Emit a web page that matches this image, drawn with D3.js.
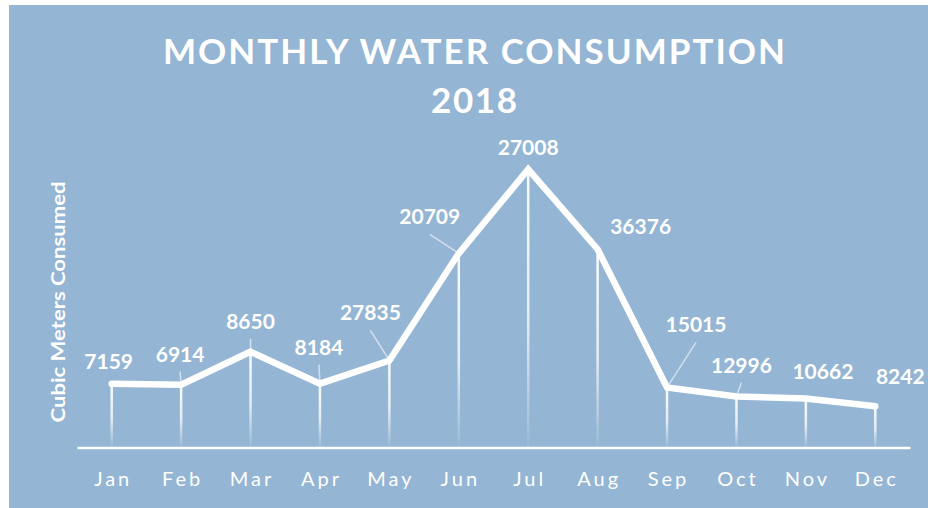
<!DOCTYPE html>
<html>
<head>
<meta charset="utf-8">
<script src="https://cdn.jsdelivr.net/npm/d3@7"></script>
<style>
  body { margin: 0; background: #ffffff; }
  svg { display: block; }
</style>
</head>
<body>
<svg id="chart"></svg>
<script>
var screen = {width: 928, height: 508};
var margins = {top: 0, right: 18, bottom: 60, left: 77};

// data
var months = ["Jan", "Feb", "Mar", "Apr", "May", "Jun", "Jul", "Aug", "Sep", "Oct", "Nov", "Dec"];
var consumption = [6200, 6100, 9300, 6200, 8450, 18850, 27008, 19250, 5830, 4950, 4750, 4000];
var dataLabels = ["7159", "6914", "8650", "8184", "27835", "20709", "27008", "36376", "15015", "12996", "10662", "8242"];

// label placement relative to each point [dx, dy, leader line?]
var labelPos = [[-3, -15, 0], [-1, -23, 1], [0, -23, 1], [-1, -29, 1], [-19, -40, 1], [-29, -29, 1],
                [0, -14, 0], [43, -15, 0], [29, -55, 1], [5, -24, 1], [17, -20, 0], [25, -22, 0]];

var svg = d3.select("#chart")
    .attr("width", screen.width)
    .attr("height", screen.height)

// gradient for the drop lines
var grad = svg.append("defs")
    .append("linearGradient")
    .attr("id", "drop")
    .attr("x1", 0).attr("y1", 0).attr("x2", 0).attr("y2", 1)
grad.append("stop").attr("offset", "0%").attr("stop-color", "#ffffff").attr("stop-opacity", 0.95)
grad.append("stop").attr("offset", "55%").attr("stop-color", "#ffffff").attr("stop-opacity", 0.75)
grad.append("stop").attr("offset", "100%").attr("stop-color", "#ffffff").attr("stop-opacity", 0.05)

//background panel
svg.append("rect")
    .attr("x", 9)
    .attr("y", 5)
    .attr("width", screen.width - 9)
    .attr("height", screen.height - 5)
    .attr("fill", "#94b5d3")

var xScale = d3.scaleBand()
    .domain(months)
    .range([margins.left, screen.width - margins.right])

var yScale = d3.scaleLinear()
    .domain([0, 30000])
    .range([447.5, 138.5])

var px = function(i) { return xScale(months[i]) + xScale.bandwidth() / 2 }
var py = function(i) { return yScale(consumption[i]) }

// title
svg.append("text")
    .attr("x", 474)
    .attr("y", 64)
    .attr("text-anchor", "middle")
    .attr("textLength", 622)
    .attr("lengthAdjust", "spacing")
    .style("font-family", "Lato, 'Open Sans', sans-serif")
    .style("font-weight", "bold")
    .style("font-size", "35px")
    .style("fill", "#ffffff")
    .text("MONTHLY WATER CONSUMPTION")

svg.append("text")
    .attr("x", 474)
    .attr("y", 113)
    .attr("text-anchor", "middle")
    .attr("textLength", 86)
    .attr("lengthAdjust", "spacing")
    .style("font-family", "Lato, 'Open Sans', sans-serif")
    .style("font-weight", "bold")
    .style("font-size", "35px")
    .style("fill", "#ffffff")
    .text("2018")

// y axis title
svg.append("text")
    .attr("transform", "translate(65,302) rotate(-90)")
    .attr("text-anchor", "middle")
    .attr("textLength", 241)
    .attr("lengthAdjust", "spacingAndGlyphs")
    .style("font-family", "Lato, 'Open Sans', sans-serif")
    .style("font-weight", "bold")
    .style("font-size", "19px")
    .style("fill", "#ffffff")
    .text("Cubic Meters Consumed")

// drop lines
svg.append("g")
    .selectAll("rect")
    .data(consumption)
    .enter()
    .append("rect")
    .attr("x", function(d, i) { return px(i) - 1.25 })
    .attr("y", function(d, i) { return py(i) })
    .attr("width", 2.5)
    .attr("height", function(d, i) { return yScale(0) - py(i) })
    .attr("fill", "url(#drop)")

// x axis
var xAxis = d3.axisBottom(xScale).tickSize(0).tickPadding(24)
var ax = svg.append("g")
    .attr("transform", "translate(0," + yScale(0) + ")")
    .call(xAxis)
ax.select(".domain")
    .attr("stroke", "#ffffff")
    .attr("stroke-width", 2.5)
ax.selectAll("text")
    .attr("dx", "1.5px")
    .style("font-family", "Lato, 'Open Sans', sans-serif")
    .style("font-size", "20px")
    .style("letter-spacing", "3px")
    .style("fill", "#ffffff")

// leader lines
var withLeader = d3.range(months.length).filter(function(i) { return labelPos[i][2] == 1 })
svg.append("g")
    .selectAll("line")
    .data(withLeader)
    .enter()
    .append("line")
    .attr("x1", function(i) { return px(i) + labelPos[i][0] })
    .attr("y1", function(i) { return py(i) + labelPos[i][1] + 10 })
    .attr("x2", function(i) { return px(i) })
    .attr("y2", function(i) { return py(i) })
    .attr("stroke", "#d3dfec")
    .attr("stroke-width", 1.5)

// main line
svg.append("path")
    .datum(consumption)
    .attr("fill", "none")
    .attr("stroke", "#ffffff")
    .attr("stroke-width", 6.5)
    .attr("stroke-linecap", "round")
    .attr("stroke-linejoin", "miter")
    .attr("d", d3.line()
        .x(function(d, i) { return px(i) })
        .y(function(d) { return yScale(d) }))

// value labels
svg.append("g")
    .selectAll("text")
    .data(dataLabels)
    .enter()
    .append("text")
    .attr("x", function(d, i) { return px(i) + labelPos[i][0] })
    .attr("y", function(d, i) { return py(i) + labelPos[i][1] })
    .attr("text-anchor", "middle")
    .style("font-family", "Lato, 'Open Sans', sans-serif")
    .style("font-weight", "bold")
    .style("font-size", "21px")
    .style("fill", "#ffffff")
    .text(function(d) { return d })
</script>
</body>
</html>
